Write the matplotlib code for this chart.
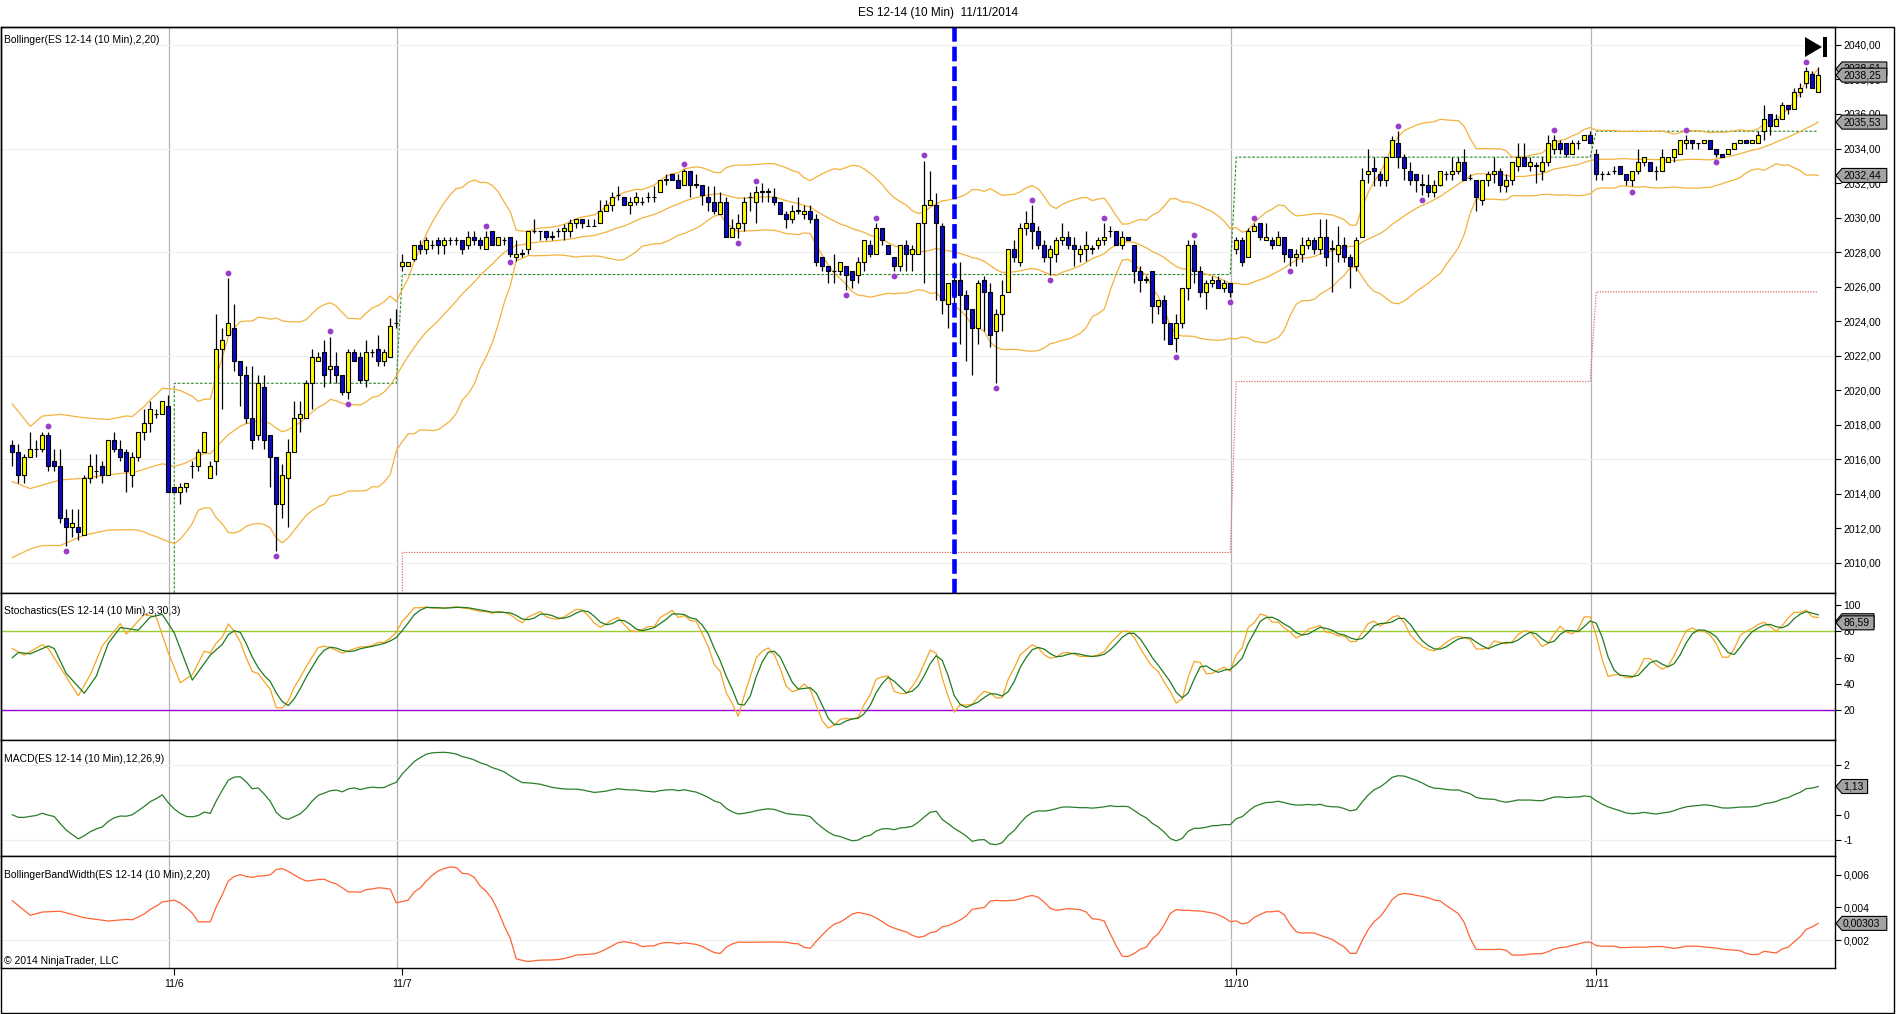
import numpy as np
import pandas as pd
import matplotlib
matplotlib.use("Agg")
import matplotlib.pyplot as plt
from matplotlib.patches import Polygon, Rectangle
from matplotlib.ticker import FixedLocator, FuncFormatter

W, H = 1896, 1014
plt.rcParams['font.family'] = ['Liberation Sans', 'DejaVu Sans']
plt.rcParams['axes.unicode_minus'] = False

# ---- ES 12-14, 10 min bars ----
opens = [
    2016.8, 2016.4, 2015.1, 2016.1, 2016.6, 2016.6, 2017.4, 2015.9, 2015.6, 2012.6,
    2012.1, 2012.1, 2011.6, 2014.9, 2015.3, 2015.6, 2015.1, 2017.1, 2016.6, 2016.4,
    2015.1, 2016.1, 2017.6, 2018.1, 2018.6, 2018.6, 2019.1, 2014.4, 2014.1, 2014.4,
    2015.6, 2015.6, 2016.4, 2014.9, 2015.9, 2022.4, 2023.2, 2023.6, 2021.7, 2020.9,
    2018.4, 2017.4, 2020.2, 2017.4, 2016.1, 2013.4, 2014.9, 2016.4, 2018.4, 2018.4,
    2020.4, 2021.7, 2022.2, 2021.2, 2021.4, 2020.9, 2019.9, 2022.2, 2021.9, 2020.6,
    2022.2, 2022.4, 2021.7, 2021.9, 2023.9, 2027.2, 2027.2, 2027.6, 2028.4, 2028.2,
    2028.4, 2028.7, 2028.4, 2028.7, 2028.7, 2028.7, 2028.4, 2028.9, 2028.7, 2028.2,
    2029.2, 2028.4, 2028.7, 2028.9, 2027.7, 2027.9, 2028.2, 2029.2, 2029.2, 2029.2,
    2028.9, 2029.2, 2029.2, 2029.2, 2029.7, 2029.9, 2029.5, 2029.5, 2029.7, 2030.4,
    2030.7, 2031.3, 2031.2, 2030.7, 2030.9, 2030.9, 2031.2, 2031.2, 2031.5, 2032.2,
    2032.5, 2032.2, 2031.9, 2032.7, 2031.9, 2031.9, 2031.2, 2030.9, 2030.2, 2030.9,
    2028.9, 2029.4, 2029.7, 2031.2, 2030.9, 2031.5, 2031.5, 2031.2, 2030.9, 2030.2,
    2029.9, 2030.4, 2030.2, 2030.4, 2029.9, 2027.7, 2027.2, 2026.9, 2026.9, 2027.2,
    2026.9, 2026.7, 2027.4, 2028.4, 2027.9, 2029.4, 2028.4, 2027.7, 2027.2, 2028.4,
    2027.9, 2027.9, 2029.7, 2030.7, 2030.7, 2029.5, 2025.0, 2026.4, 2026.4, 2025.5,
    2024.7, 2023.6, 2026.4, 2025.7, 2023.4, 2024.4, 2025.7, 2028.2, 2027.4, 2029.4,
    2029.7, 2029.2, 2028.4, 2027.7, 2027.9, 2028.7, 2028.9, 2028.4, 2027.9, 2028.2,
    2028.2, 2028.4, 2028.7, 2029.2, 2029.2, 2028.4, 2028.9, 2028.4, 2026.9, 2026.4,
    2026.9, 2024.9, 2025.2, 2023.9, 2023.0, 2023.9, 2025.9, 2028.4, 2026.9, 2025.7,
    2026.2, 2026.4, 2025.9, 2026.2, 2028.2, 2028.7, 2027.7, 2029.2, 2029.7, 2028.7,
    2028.7, 2028.4, 2028.9, 2028.2, 2027.7, 2027.9, 2028.4, 2028.7, 2028.2, 2028.9,
    2028.2, 2027.9, 2028.4, 2027.7, 2027.2, 2028.9, 2032.5, 2032.9, 2032.5, 2032.2,
    2033.5, 2034.3, 2033.5, 2032.7, 2032.5, 2031.9, 2031.9, 2031.5, 2031.9, 2032.5,
    2032.5, 2032.7, 2033.2, 2032.3, 2032.2, 2031.0, 2032.2, 2032.5, 2032.7, 2031.8,
    2032.2, 2033.0, 2033.5, 2033.0, 2033.0, 2032.7, 2033.2, 2034.0, 2034.3, 2034.3,
    2033.7, 2034.3, 2034.5, 2034.8, 2033.7, 2032.5, 2032.5, 2032.7, 2033.0, 2032.5,
    2032.2, 2032.7, 2033.2, 2033.2, 2032.7, 2032.7, 2033.2, 2033.5, 2033.7, 2034.3,
    2034.5, 2034.3, 2034.3, 2034.5, 2034.0, 2033.7, 2033.7, 2034.0, 2034.3, 2034.5,
    2034.3, 2034.3, 2035.0, 2036.0, 2035.3, 2035.7, 2036.5, 2036.3, 2037.3, 2037.8,
    2038.3, 2037.3]
highs = [
    2017.1, 2016.9, 2016.3, 2017.6, 2017.1, 2017.6, 2017.6, 2016.6, 2016.6, 2013.1,
    2013.1, 2013.1, 2015.1, 2016.3, 2016.3, 2015.9, 2017.1, 2017.6, 2017.1, 2016.6,
    2016.4, 2017.6, 2018.9, 2019.4, 2018.9, 2019.4, 2019.7, 2014.4, 2014.6, 2014.6,
    2015.9, 2016.6, 2017.6, 2015.9, 2024.4, 2023.6, 2026.5, 2025.0, 2021.7, 2021.4,
    2021.4, 2020.9, 2020.9, 2017.4, 2016.1, 2015.7, 2017.2, 2019.4, 2019.4, 2020.6,
    2022.4, 2022.2, 2022.9, 2023.1, 2022.2, 2020.9, 2022.4, 2022.4, 2022.2, 2022.9,
    2022.4, 2023.2, 2022.4, 2024.2, 2024.7, 2027.9, 2027.4, 2028.4, 2028.7, 2028.9,
    2028.7, 2028.9, 2028.9, 2028.9, 2028.9, 2028.7, 2029.2, 2029.2, 2028.9, 2029.2,
    2029.2, 2028.9, 2028.9, 2028.9, 2028.7, 2028.2, 2029.2, 2029.9, 2029.2, 2029.2,
    2029.2, 2029.4, 2029.6, 2029.9, 2029.9, 2029.9, 2029.9, 2029.9, 2031.0, 2031.0,
    2031.5, 2031.8, 2031.2, 2031.2, 2031.5, 2031.2, 2031.5, 2031.8, 2032.2, 2032.5,
    2032.5, 2032.5, 2032.8, 2032.7, 2032.5, 2031.9, 2031.8, 2031.8, 2031.5, 2031.2,
    2029.9, 2030.2, 2031.2, 2031.5, 2031.8, 2032.0, 2031.7, 2031.7, 2030.9, 2030.4,
    2030.7, 2031.2, 2030.7, 2030.7, 2030.2, 2027.7, 2027.2, 2027.9, 2027.4, 2027.2,
    2026.9, 2027.7, 2028.7, 2028.7, 2029.7, 2029.4, 2028.4, 2027.7, 2028.4, 2028.7,
    2028.4, 2029.7, 2033.3, 2032.7, 2031.4, 2029.7, 2026.2, 2027.4, 2027.4, 2025.8,
    2024.7, 2026.4, 2026.6, 2026.2, 2024.7, 2026.4, 2028.2, 2028.7, 2029.7, 2030.4,
    2030.7, 2029.5, 2028.7, 2028.4, 2028.9, 2029.7, 2029.2, 2028.9, 2028.4, 2029.2,
    2028.4, 2028.9, 2029.7, 2029.5, 2029.2, 2029.2, 2028.9, 2028.4, 2027.2, 2026.6,
    2026.9, 2025.2, 2025.5, 2023.9, 2024.4, 2025.9, 2028.7, 2028.7, 2027.2, 2026.4,
    2026.6, 2026.6, 2026.4, 2026.2, 2028.9, 2028.9, 2029.4, 2029.7, 2029.7, 2029.7,
    2028.9, 2029.2, 2028.9, 2028.2, 2028.2, 2028.9, 2028.9, 2028.9, 2029.9, 2029.9,
    2028.7, 2029.5, 2028.9, 2027.9, 2028.9, 2032.9, 2034.0, 2033.5, 2032.7, 2033.5,
    2034.7, 2035.0, 2033.7, 2033.2, 2032.5, 2032.5, 2032.5, 2032.2, 2032.7, 2032.7,
    2033.5, 2033.5, 2034.0, 2032.5, 2032.2, 2032.2, 2032.7, 2033.5, 2032.9, 2032.5,
    2033.2, 2034.3, 2034.3, 2033.5, 2033.2, 2033.5, 2034.8, 2034.8, 2034.5, 2034.3,
    2034.5, 2034.5, 2034.8, 2035.0, 2034.0, 2032.7, 2032.7, 2033.0, 2033.0, 2032.5,
    2032.7, 2034.0, 2033.5, 2033.2, 2033.0, 2034.0, 2033.5, 2034.0, 2034.5, 2034.8,
    2034.5, 2034.3, 2034.5, 2034.5, 2034.0, 2033.7, 2034.0, 2034.3, 2034.5, 2034.5,
    2034.5, 2035.0, 2036.5, 2036.0, 2036.0, 2036.7, 2036.5, 2037.5, 2037.8, 2038.7,
    2038.5, 2038.7]
lows = [
    2015.6, 2014.6, 2014.6, 2016.1, 2016.1, 2016.4, 2015.3, 2015.3, 2012.3, 2011.0,
    2011.5, 2011.3, 2011.6, 2014.6, 2014.9, 2014.6, 2015.1, 2016.4, 2015.9, 2014.1,
    2014.4, 2015.9, 2017.1, 2017.6, 2018.4, 2018.6, 2014.1, 2014.1, 2013.4, 2014.1,
    2014.9, 2015.3, 2016.4, 2014.9, 2015.1, 2018.9, 2023.2, 2021.1, 2019.1, 2018.1,
    2016.6, 2017.1, 2016.6, 2014.4, 2010.7, 2012.6, 2012.1, 2016.4, 2017.6, 2018.4,
    2018.9, 2021.7, 2020.2, 2020.4, 2020.4, 2019.7, 2019.5, 2021.7, 2020.4, 2020.2,
    2021.9, 2021.4, 2021.4, 2021.9, 2023.6, 2026.9, 2027.2, 2027.5, 2027.9, 2027.9,
    2028.2, 2027.9, 2027.9, 2028.4, 2028.4, 2027.9, 2028.2, 2028.4, 2028.2, 2028.2,
    2028.4, 2028.4, 2028.4, 2027.7, 2027.5, 2027.7, 2027.9, 2029.1, 2028.7, 2028.7,
    2028.7, 2028.9, 2028.7, 2028.9, 2029.4, 2029.4, 2029.5, 2029.5, 2029.7, 2030.4,
    2030.4, 2031.0, 2030.7, 2030.2, 2030.7, 2030.7, 2030.9, 2030.9, 2031.5, 2031.9,
    2032.2, 2031.7, 2031.9, 2031.2, 2031.7, 2030.7, 2030.4, 2030.2, 2030.2, 2028.9,
    2028.9, 2028.8, 2029.2, 2030.4, 2029.7, 2030.9, 2030.9, 2030.7, 2030.2, 2029.4,
    2029.7, 2030.2, 2029.9, 2029.7, 2027.2, 2026.9, 2026.2, 2026.2, 2026.7, 2025.8,
    2025.9, 2026.2, 2026.9, 2027.7, 2027.9, 2028.4, 2027.9, 2026.9, 2026.9, 2026.9,
    2026.9, 2027.9, 2026.2, 2030.7, 2025.2, 2024.4, 2023.6, 2024.4, 2022.7, 2021.7,
    2020.9, 2022.7, 2023.4, 2022.5, 2020.4, 2023.4, 2025.7, 2027.4, 2027.2, 2029.0,
    2028.2, 2028.2, 2027.4, 2026.7, 2027.4, 2028.4, 2028.2, 2027.2, 2027.4, 2027.5,
    2027.9, 2028.2, 2028.4, 2028.9, 2028.4, 2028.2, 2028.7, 2026.2, 2025.7, 2026.2,
    2023.9, 2024.4, 2022.9, 2022.7, 2022.2, 2023.6, 2025.2, 2026.2, 2025.4, 2024.7,
    2026.0, 2025.9, 2025.7, 2025.4, 2027.9, 2027.2, 2027.7, 2029.2, 2028.7, 2028.7,
    2028.2, 2028.4, 2027.4, 2027.2, 2027.2, 2027.4, 2028.2, 2027.9, 2027.9, 2027.2,
    2025.7, 2027.4, 2027.4, 2025.9, 2026.9, 2028.9, 2032.0, 2031.8, 2031.8, 2031.8,
    2033.5, 2032.9, 2032.2, 2031.9, 2031.5, 2031.3, 2031.2, 2031.2, 2031.8, 2032.2,
    2032.2, 2032.5, 2032.2, 2032.2, 2030.4, 2030.7, 2031.8, 2032.0, 2031.5, 2031.5,
    2031.9, 2032.7, 2033.0, 2032.7, 2032.0, 2032.2, 2033.0, 2033.7, 2033.7, 2033.5,
    2033.7, 2034.0, 2034.5, 2034.3, 2032.2, 2032.2, 2032.5, 2032.5, 2032.5, 2031.9,
    2031.8, 2032.5, 2033.0, 2032.7, 2032.2, 2032.7, 2033.2, 2033.2, 2033.7, 2034.0,
    2034.0, 2034.0, 2034.3, 2034.0, 2033.5, 2033.5, 2033.7, 2034.0, 2034.3, 2034.3,
    2034.3, 2034.3, 2034.5, 2034.8, 2035.3, 2035.7, 2036.0, 2036.3, 2037.0, 2037.5,
    2037.5, 2037.3]
closes = [
    2016.4, 2015.1, 2016.1, 2016.6, 2016.6, 2017.4, 2015.6, 2015.6, 2012.6, 2012.1,
    2012.3, 2011.8, 2014.9, 2015.6, 2015.3, 2015.1, 2017.1, 2016.6, 2016.1, 2015.3,
    2016.1, 2017.6, 2018.1, 2018.9, 2018.6, 2019.4, 2014.1, 2014.1, 2014.4, 2014.6,
    2015.6, 2016.4, 2017.6, 2015.6, 2022.4, 2022.9, 2023.9, 2021.7, 2020.9, 2018.4,
    2017.1, 2020.4, 2017.1, 2016.1, 2013.4, 2015.1, 2016.4, 2018.4, 2018.6, 2020.4,
    2021.9, 2021.9, 2020.9, 2021.4, 2020.9, 2019.9, 2022.2, 2021.7, 2020.6, 2022.2,
    2022.2, 2021.7, 2022.2, 2023.7, 2023.9, 2027.4, 2027.4, 2028.4, 2028.2, 2028.7,
    2028.4, 2028.4, 2028.7, 2028.7, 2028.7, 2028.2, 2028.9, 2028.7, 2028.4, 2028.9,
    2028.4, 2028.9, 2028.7, 2027.9, 2027.9, 2027.9, 2029.2, 2029.2, 2029.2, 2028.9,
    2028.9, 2029.2, 2029.4, 2029.7, 2029.9, 2029.7, 2029.5, 2029.5, 2030.4, 2030.7,
    2031.2, 2031.3, 2030.7, 2030.9, 2031.2, 2030.9, 2031.2, 2031.2, 2032.2, 2032.2,
    2032.2, 2031.7, 2032.7, 2031.9, 2031.9, 2031.3, 2030.9, 2030.4, 2030.9, 2028.9,
    2029.4, 2029.7, 2030.9, 2031.2, 2031.5, 2031.5, 2031.5, 2030.9, 2030.2, 2029.9,
    2030.4, 2030.4, 2030.4, 2029.9, 2027.4, 2027.2, 2026.9, 2026.9, 2027.4, 2026.7,
    2026.4, 2027.4, 2028.7, 2027.9, 2029.4, 2028.7, 2027.9, 2027.2, 2028.4, 2027.9,
    2028.2, 2029.7, 2030.7, 2031.0, 2029.7, 2025.2, 2026.2, 2025.5, 2025.5, 2024.7,
    2023.6, 2026.2, 2025.7, 2023.2, 2024.4, 2025.5, 2028.2, 2027.7, 2029.4, 2029.7,
    2029.2, 2028.4, 2027.7, 2028.2, 2028.7, 2028.9, 2028.4, 2028.2, 2028.2, 2028.4,
    2028.2, 2028.7, 2028.9, 2029.2, 2028.4, 2028.9, 2028.7, 2026.9, 2026.4, 2026.4,
    2024.9, 2025.2, 2023.9, 2022.7, 2023.9, 2025.9, 2028.4, 2026.9, 2025.7, 2026.2,
    2026.4, 2025.9, 2026.2, 2025.7, 2028.7, 2027.4, 2029.2, 2029.5, 2028.9, 2028.9,
    2028.4, 2028.9, 2027.9, 2027.7, 2027.9, 2028.4, 2028.7, 2028.2, 2028.9, 2027.7,
    2028.2, 2028.4, 2027.7, 2027.2, 2028.7, 2032.2, 2032.7, 2032.7, 2032.2, 2033.5,
    2034.5, 2033.5, 2032.9, 2032.2, 2032.2, 2031.9, 2031.5, 2031.9, 2032.7, 2032.5,
    2032.7, 2033.2, 2032.2, 2032.3, 2031.2, 2032.2, 2032.5, 2032.7, 2031.9, 2032.2,
    2033.2, 2033.5, 2033.0, 2033.2, 2033.0, 2033.2, 2034.3, 2034.5, 2034.0, 2033.7,
    2034.3, 2034.3, 2034.8, 2034.3, 2032.5, 2032.5, 2032.5, 2032.7, 2032.5, 2032.2,
    2032.7, 2033.2, 2033.5, 2032.7, 2032.7, 2033.5, 2033.5, 2034.0, 2034.5, 2034.5,
    2034.3, 2034.3, 2034.5, 2034.0, 2033.7, 2033.5, 2034.0, 2034.3, 2034.5, 2034.3,
    2034.5, 2034.8, 2035.7, 2035.3, 2035.7, 2036.5, 2036.3, 2037.3, 2037.5, 2038.5,
    2037.5, 2038.25]

day_labels = ['11/6', '11/7', '11/10', '11/11']
day_first_bar = [27, 65, 204, 264]

swing_high_bars = [6, 36, 53, 79, 112, 124, 144, 152, 170, 182, 197, 207, 231, 257, 279, 299]
swing_low_bars = [9, 44, 56, 83, 121, 139, 147, 164, 173, 194, 203, 213, 235, 270, 284]

# prior day levels (green dashed / red dotted)
level_hi = [2020.4, 2026.7, 2033.5, 2035.0]
level_lo = [2010.6, 2020.5, 2025.7]

marker_bar = 157  # blue dashed vertical

# start of the bands/stochastics, before 20/30 bars of history exist here
bb_lead_bars = [0, 3, 5, 8, 12, 16]
bb_lead_upper = [2019.2, 2017.9, 2018.5, 2018.6, 2018.4, 2018.3]
bb_lead_mid = [2014.7, 2014.3, 2014.5, 2014.8, 2014.9, 2015.1]
bb_lead_lower = [2010.3, 2010.8, 2011.0, 2011.0, 2011.6, 2011.9]
stoch_k_lead_bars = [0, 2, 5, 6, 11, 13, 15, 18, 19, 22, 24, 26, 28, 30, 32]
stoch_k_lead = [67, 62, 70, 67, 31, 47, 69, 86, 78, 93, 91, 64, 41, 47, 65]
stoch_d_lead_bars = [0, 1, 3, 6, 7, 9, 12, 14, 16, 18, 21, 23, 25, 27, 30, 33]
stoch_d_lead = [60, 64, 63, 69, 67, 48, 33, 46, 71, 83, 81, 91, 93, 79, 43, 62]

# values shown in the right-hand boxes
price_boxes = [(2038.61, '2038,61'), (2038.25, '2038,25'), (2035.53, '2035,53'), (2032.44, '2032,44')]
stoch_boxes = [(88.19, '88,19'), (86.59, '86,59')]
macd_boxes = [(1.13, '1,13')]
bbw_boxes = [(0.00303, '0,00303')]

# ---- indicators ----
n = len(closes)
x = np.arange(n)
c = pd.Series(closes)
mid = c.rolling(20).mean()
sd = c.rolling(20).std(ddof=0)
bx = np.r_[bb_lead_bars, x[19:]]
bu = np.r_[bb_lead_upper, (mid + 2 * sd)[19:]]
bm = np.r_[bb_lead_mid, mid[19:]]
bl = np.r_[bb_lead_lower, (mid - 2 * sd)[19:]]
bbw = (bu - bl) / bm

hh = pd.Series(highs).rolling(30).max()
ll = pd.Series(lows).rolling(30).min()
fast_k = 100 * (c - ll) / (hh - ll)
k_line = fast_k.rolling(3).mean()
d_line = k_line.rolling(3).mean()
kx = np.r_[stoch_k_lead_bars, x[33:]]
ky = np.r_[stoch_k_lead, k_line[33:]]
dx = np.r_[stoch_d_lead_bars, x[34:]]
dy = np.r_[stoch_d_lead, d_line[34:]]

macd = c.ewm(span=12, adjust=False).mean() - c.ewm(span=26, adjust=False).mean()

# ---- figure ----
fig = plt.figure(figsize=(W / 100, H / 100), dpi=100)
fig.patch.set_facecolor('white')


def fp(px, py):
    return (px / W, 1 - py / H)


def make_ax(top, bottom):
    ax = fig.add_axes([1 / W, 1 - bottom / H, 1834 / W, (bottom - top) / H])
    ax.set_xlim(-1.88, 303.8)
    ax.yaxis.tick_right()
    ax.tick_params(axis='y', direction='out', length=4, width=0.8, labelsize=7.5, pad=2)
    ax.tick_params(axis='x', bottom=False, labelbottom=False)
    for s in ax.spines.values():
        s.set_linewidth(1.0)
    for b in day_first_bar:
        ax.axvline(b - 0.9, color='#b4b4b4', lw=0.9, zorder=0)
    return ax


ax1 = make_ax(27, 593)
ax2 = make_ax(593, 740)
ax3 = make_ax(740, 856)
ax4 = make_ax(856, 968)

# price panel
ax1.set_ylim(2008.25, 2041.04)
for g in range(2010, 2041, 6):
    ax1.axhline(g, color='#efefef', lw=0.8, zorder=0)
ax1.yaxis.set_major_locator(FixedLocator(np.arange(2010, 2041, 2)))
ax1.yaxis.set_major_formatter(FuncFormatter(lambda v, p: f'{v:.2f}'.replace('.', ',')))

ax1.plot(bx, bu, color='#f3b23c', lw=0.9, zorder=2)
ax1.plot(bx, bm, color='#f3b23c', lw=0.9, zorder=2)
ax1.plot(bx, bl, color='#f3b23c', lw=0.9, zorder=2)

hi_x = [day_first_bar[0]] + list(range(day_first_bar[0], n))
hi_y = [2000.0] + list(np.repeat(level_hi, np.diff(day_first_bar + [n])))
ax1.plot(hi_x, hi_y, color='#2e8b2e', lw=0.8, ls=(0, (2.5, 1.5)), zorder=1)
lo_x = [day_first_bar[1]] + list(range(day_first_bar[1], n))
lo_y = [2000.0] + list(np.repeat(level_lo, np.diff(day_first_bar[1:] + [n])))
ax1.plot(lo_x, lo_y, color='#e06a6a', lw=0.8, ls=(0, (1.2, 1.2)), zorder=1)

o = np.array(opens)
cl = np.array(closes)
body_bot = np.minimum(o, cl)
body_h = np.maximum(np.abs(cl - o), 0.02)
body_col = np.where(cl >= o, '#ffff00', '#0a0ac8')
ax1.vlines(x, lows, highs, color='black', lw=0.9, zorder=3)
ax1.bar(x, body_h, bottom=body_bot, width=0.7, color=body_col, edgecolor='black', linewidth=0.8, zorder=4)

ax1.plot(swing_high_bars, np.array(highs)[swing_high_bars] + 0.3, 'o', color='#9b3dcc', ms=4.2, mec='none', zorder=5)
ax1.plot(swing_low_bars, np.array(lows)[swing_low_bars] - 0.3, 'o', color='#9b3dcc', ms=4.2, mec='none', zorder=5)

ax1.axvline(marker_bar, color='#0000ff', lw=3.3, ls=(0, (3.2, 1.1)), zorder=6)

# stochastics
ax2.set_ylim(-2.6, 109.3)
ax2.yaxis.set_major_locator(FixedLocator([20, 40, 60, 80, 100]))
ax2.axhline(80, color='#9acd32', lw=1.0, zorder=1)
ax2.axhline(20, color='#9400d3', lw=1.0, zorder=1)
ax2.plot(kx, ky, color='#f5a623', lw=0.9, zorder=2)
ax2.plot(dx, dy, color='#1f7a1f', lw=0.9, zorder=3)

# MACD (the "1" tick sits under the value box, so it is left out)
ax3.set_ylim(-1.65, 2.99)
for g in (2, -1):
    ax3.axhline(g, color='#efefef', lw=0.8, zorder=0)
ax3.yaxis.set_major_locator(FixedLocator([-1, 0, 2]))
ax3.plot(x, macd, color='#2a7d2a', lw=0.9)

# Bollinger band width
ax4.set_ylim(0.00031, 0.00714)
ax4.axhline(0.002, color='#efefef', lw=0.8, zorder=0)
ax4.yaxis.set_major_locator(FixedLocator([0.002, 0.004, 0.006]))
ax4.yaxis.set_major_formatter(FuncFormatter(lambda v, p: f'{v:.3f}'.replace('.', ',')))
ax4.plot(bx, bbw, color='#ff6435', lw=0.9)
ax4.set_xticks([b for b in day_first_bar])
ax4.set_xticklabels(day_labels)
ax4.tick_params(axis='x', bottom=True, labelbottom=True, direction='out', length=5, width=0.8,
                labelsize=7.5, pad=3)

# panel captions
fig.text(*fp(4, 40), 'Bollinger(ES 12-14 (10 Min),2,20)', fontsize=7.5, va='center', ha='left')
fig.text(*fp(4, 611), 'Stochastics(ES 12-14 (10 Min),3,30,3)', fontsize=7.5, va='center', ha='left')
fig.text(*fp(4, 759), 'MACD(ES 12-14 (10 Min),12,26,9)', fontsize=7.5, va='center', ha='left')
fig.text(*fp(4, 875), 'BollingerBandWidth(ES 12-14 (10 Min),2,20)', fontsize=7.5, va='center', ha='left')
fig.text(*fp(4, 961), '\u00a9 2014 NinjaTrader, LLC', fontsize=7.5, va='center', ha='left')
fig.text(*fp(938, 13), 'ES 12-14 (10 Min)  11/11/2014', fontsize=8.5, va='center', ha='center')

# outer frame
fig.add_artist(Rectangle(fp(1, 1013), 1893 / W, 986 / H, transform=fig.transFigure,
                         fill=False, ec='black', lw=1.0))

# "go to last bar" icon
fig.add_artist(Polygon([fp(1805, 37), fp(1805, 57), fp(1822, 47)], closed=True,
                       transform=fig.transFigure, fc='black', ec='none'))
fig.add_artist(Rectangle(fp(1823, 57), 4 / W, 20 / H, transform=fig.transFigure, fc='black', ec='none'))


# value boxes on the right axis
zo = [10]


def value_boxes(ax, items):
    for val, txt in items:
        yd = ax.transData.transform((0, val))[1]
        yp = H - yd
        w = 6.4 * len(txt) + 6
        x0 = 1836
        pts = [(x0, yp), (x0 + 6, yp - 7), (x0 + w, yp - 7), (x0 + w, yp + 7), (x0 + 6, yp + 7)]
        fig.add_artist(Polygon([fp(*p) for p in pts], closed=True, transform=fig.transFigure,
                               fc='#a3a3a3', ec='black', lw=0.8, zorder=zo[0]))
        fig.text(*fp(x0 + 7, yp), txt, fontsize=7.5, va='center', ha='left', zorder=zo[0] + 0.5)
        zo[0] += 1


value_boxes(ax1, price_boxes)
value_boxes(ax2, stoch_boxes)
value_boxes(ax3, macd_boxes)
value_boxes(ax4, bbw_boxes)

fig.savefig('out.png', dpi=100)
